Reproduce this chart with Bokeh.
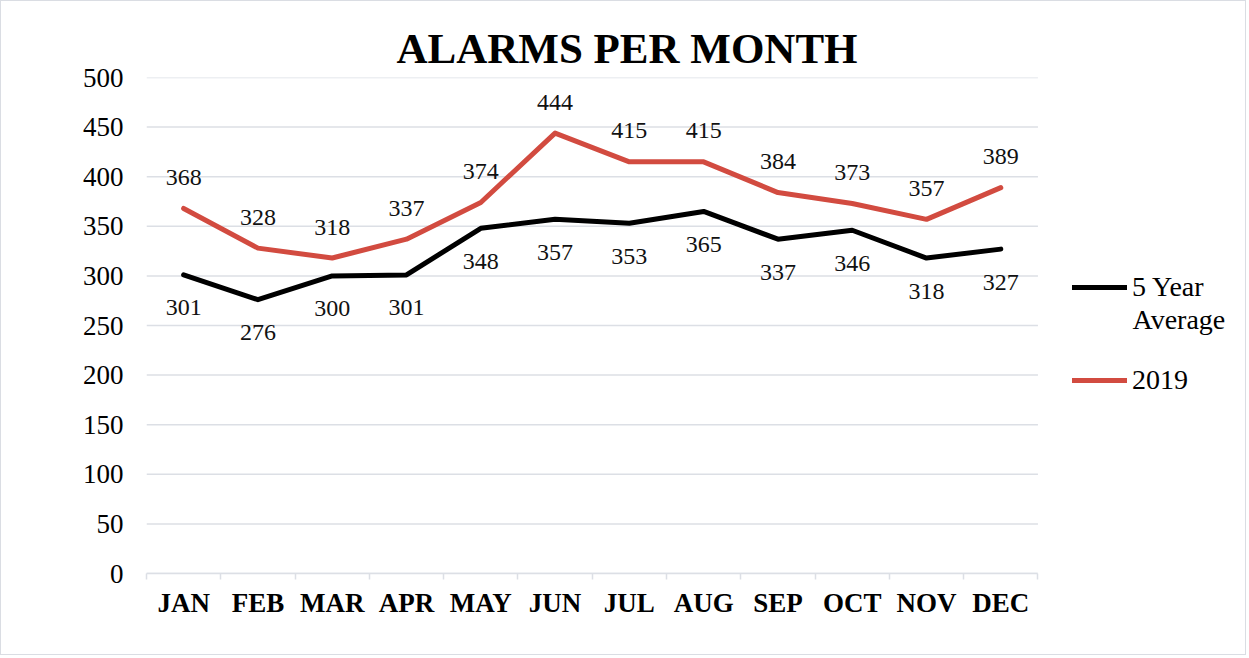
from bokeh.plotting import figure
from bokeh.models import (ColumnDataSource, FixedTicker, Range1d, LabelSet,
                          Legend, LegendItem, Label)
from bokeh.embed import file_html
from bokeh.resources import INLINE

months = ["JAN", "FEB", "MAR", "APR", "MAY", "JUN", "JUL", "AUG", "SEP", "OCT", "NOV", "DEC"]
avg5 = [301, 276, 300, 301, 348, 357, 353, 365, 337, 346, 318, 327]
y2019 = [368, 328, 318, 337, 374, 444, 415, 415, 384, 373, 357, 389]
y_ticks = list(range(0, 501, 50))

FONT = "Liberation Serif"
RED = "#d24b40"
GRID = "#dcdfe5"

W, H = 1246, 655
BL, BR, BT, BB = 145, 6, 76, 83
DATA_W = 889                      # pixel width of the category area
frame_w = W - BL - BR - 3
n = len(months)
x_end = n * frame_w / DATA_W      # leave room on the right for the legend

xs = [i + 0.5 for i in range(n)]
src = ColumnDataSource(dict(x=xs, m=months, avg=avg5, y19=y2019,
                            avg_t=[str(v) for v in avg5],
                            y19_t=[str(v) for v in y2019]))
grid_src = ColumnDataSource(dict(y=y_ticks, x0=[0] * len(y_ticks), x1=[n] * len(y_ticks)))

p = figure(width=W, height=H, output_backend="svg", toolbar_location=None,
           x_range=Range1d(0, x_end), y_range=Range1d(0, 500),
           min_border_left=BL, min_border_right=BR, min_border_top=BT,
           min_border_bottom=BB)
p.outline_line_color = None
p.background_fill_color = "white"
p.border_fill_color = "white"
p.styles = {"border": "1.5px solid #dadde3"}

p.title.text = "ALARMS PER MONTH"
p.title.text_font = FONT
p.title.text_font_size = "43px"
p.title.text_font_style = "bold"
p.title.align = "left"
p.title.text_color = "black"
p.title.offset = 250
p.title.standoff = 12

# y axis
p.yaxis.ticker = FixedTicker(ticks=y_ticks)
p.yaxis.axis_line_color = None
p.yaxis.major_tick_line_color = None
p.yaxis.major_tick_out = 0
p.yaxis.major_tick_in = 0
p.yaxis.minor_tick_line_color = None
p.yaxis.major_label_text_font = FONT
p.yaxis.major_label_text_font_size = "27px"
p.yaxis.major_label_text_color = "black"
p.yaxis.major_label_standoff = 23

# x axis: labels at centres, ticks at boundaries
p.xaxis.ticker = FixedTicker(ticks=xs, minor_ticks=list(range(n + 1)))
p.xaxis.bounds = (0, n)
p.xaxis.major_label_overrides = {x: m for x, m in zip(xs, months)}
p.xaxis.major_tick_line_color = None
p.xaxis.major_tick_out = 0
p.xaxis.major_tick_in = 0
p.xaxis.minor_tick_line_color = GRID
p.xaxis.minor_tick_line_width = 1.5
p.xaxis.minor_tick_in = 0
p.xaxis.minor_tick_out = 6
p.xaxis.axis_line_color = GRID
p.xaxis.axis_line_width = 1.5
p.xaxis.major_label_text_font = FONT
p.xaxis.major_label_text_font_size = "27px"
p.xaxis.major_label_text_font_style = "bold"
p.xaxis.major_label_text_color = "black"
p.xaxis.major_label_standoff = 8

p.xgrid.grid_line_color = None
p.ygrid.grid_line_color = None
p.segment(x0="x0", x1="x1", y0="y", y1="y", source=grid_src,
          line_color=GRID, line_width=1.5, level="underlay")

r_avg = p.line("x", "avg", source=src, line_color="black", line_width=5,
               line_join="round", line_cap="round")
r_19 = p.line("x", "y19", source=src, line_color=RED, line_width=5,
              line_join="round", line_cap="round")

p.add_layout(LabelSet(x="x", y="y19", text="y19_t", source=src, y_offset=31,
                      text_align="center", text_baseline="middle",
                      text_font=FONT, text_font_size="24px", text_color="#111"))
p.add_layout(LabelSet(x="x", y="avg", text="avg_t", source=src, y_offset=-33,
                      text_align="center", text_baseline="middle",
                      text_font=FONT, text_font_size="24px", text_color="#111"))

legend = Legend(items=[LegendItem(label="5 Year", renderers=[r_avg]),
                       LegendItem(label="2019", renderers=[r_19])],
                location=(926, 177))
legend.label_text_font = FONT
legend.label_text_font_size = "28px"
legend.label_text_color = "black"
legend.label_height = 28
legend.glyph_width = 55
legend.glyph_height = 28
legend.label_standoff = 5
legend.spacing = 61
legend.border_line_color = None
legend.background_fill_alpha = 0
legend.padding = 0
legend.margin = 0
p.add_layout(legend, "center")

p.add_layout(Label(x=986, y=254, x_units="screen", y_units="screen",
                   text="Average", text_font=FONT, text_font_size="28px",
                   text_color="black", text_baseline="middle"))

open("out.html", "w").write(file_html(p, INLINE))
